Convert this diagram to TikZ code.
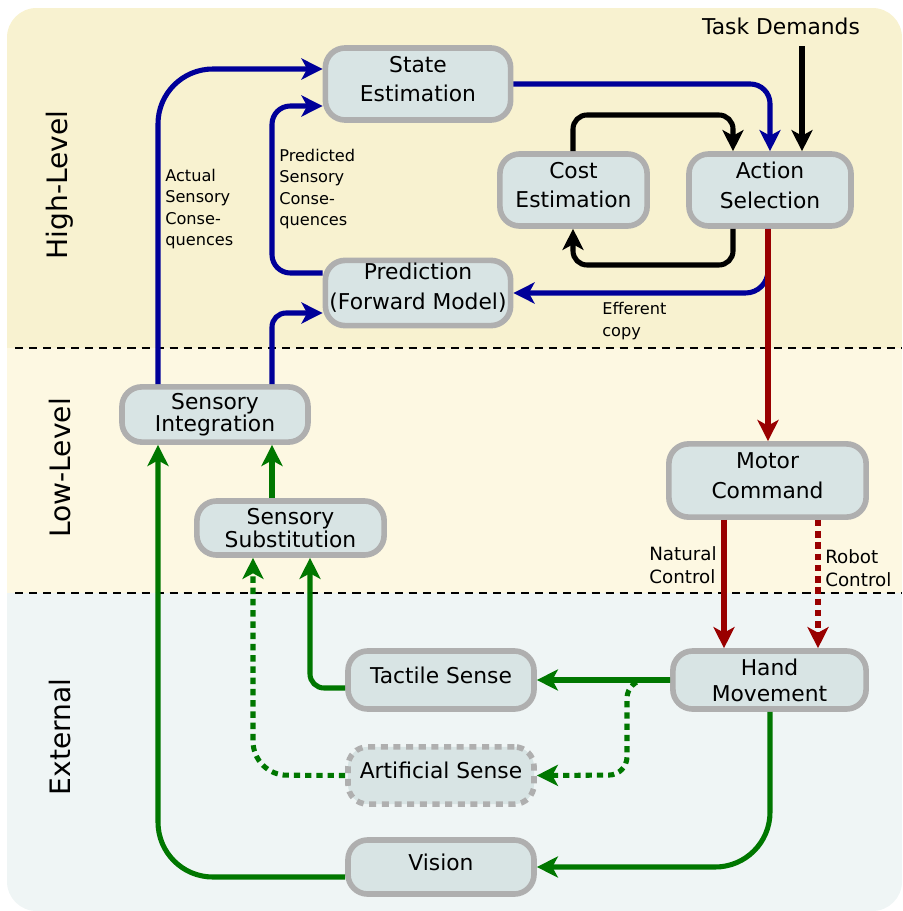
\documentclass[tikz,border=0pt]{standalone}
\usepackage{fontspec}
\setmainfont{DejaVu Sans}
\usepackage{tikz}
\usetikzlibrary{arrows.meta, shapes}

\definecolor{highbg}{HTML}{F8F2D0}
\definecolor{lowbg}{HTML}{FDF8E2}
\definecolor{extbg}{HTML}{EFF5F5}
\definecolor{boxfill}{HTML}{D8E4E4}
\definecolor{boxline}{HTML}{AFAFAF}
\definecolor{sigblue}{HTML}{000099}
\definecolor{sigred}{HTML}{990000}
\definecolor{siggreen}{HTML}{007700}

\begin{document}
\begin{tikzpicture}[x=0.025cm, y=-0.025cm, >={Stealth[length=15pt, width=15pt, inset=4pt]},
		box/.style={draw=boxline, fill=boxfill, line width=4pt, rounded corners=14pt, align=center,
			inner sep=0pt, font=\fontsize{15.5}{21}\selectfont},
		lift/.style={text depth=7pt},
		tight/.style={font=\fontsize{15.5}{16}\selectfont},
		sig/.style={->, line width=3.6pt, rounded corners=10pt},
		note/.style={anchor=west, align=left, inner sep=0pt, font=\fontsize{11.5}{15}\selectfont},
		layer/.style={rotate=90, font=\fontsize{20}{24}\selectfont},
		dots/.style={dash pattern=on 4.5pt off 3.5pt}]
		\useasboundingbox (0,0) rectangle (902,911);
		
		% bands
		\begin{scope}
			\clip[rounded corners=21pt] (7,8) rectangle (902,911);
			\fill[highbg] (7,8) rectangle (902,348);
			\fill[lowbg] (7,348) rectangle (902,593);
			\fill[extbg] (7,593) rectangle (902,911);
		\end{scope}
		\draw[line width=1pt, dash pattern=on 5.7pt off 4.3pt] (15,348) -- (902,348);
		\draw[line width=1pt, dash pattern=on 5.7pt off 4.3pt] (15,593) -- (902,593);
		
		\node[layer] (high) at (60,185) {High-Level};
		\node[layer] (low) at (60,468) {Low-Level};
		\node[layer] (ext) at (60,737) {External};
		
		\node[box, lift, minimum width=4.63cm, minimum height=1.8cm] (state) at (418,84) {State\\Estimation};
		\node[box, lift, minimum width=3.68cm, minimum height=1.8cm] (cost) at (573.5,190) {Cost\\Estimation};
		\node[box, lift, minimum width=4.05cm, minimum height=1.8cm] (action) at (770,190) {Action\\Selection};
		\node[box, text depth=9.5pt, minimum width=4.63cm, minimum height=1.63cm] (pred) at (418,293) {Prediction\\(Forward Model)};
		\node[box, tight, minimum width=4.65cm, minimum height=1.38cm] (sint) at (215,414.5) {Sensory\\Integration};
		\node[box, tight, minimum width=4.68cm, minimum height=1.35cm] (ssub) at (290.5,528) {Sensory\\Substitution};
		\node[box, lift, minimum width=4.93cm, minimum height=1.83cm] (motor) at (767.5,480.5) {Motor\\Command};
		\node[box, font=\fontsize{15.5}{18.5}\selectfont, minimum width=4.83cm, minimum height=1.45cm] (hand) at (769.5,680) {Hand\\Movement};
		\node[box, lift, minimum width=4.65cm, minimum height=1.45cm] (tactile) at (441,680) {Tactile Sense};
		\node[box, lift, dash pattern=on 5pt off 4pt, minimum width=4.65cm, minimum height=1.43cm] (artificial) at (441,775.5) {Artificial Sense};
		\node[box, lift, minimum width=4.65cm, minimum height=1.35cm] (vision) at (441,867) {Vision};
		\node[font=\fontsize{15.5}{18}\selectfont] (task) at (781,26) {Task Demands};
		
		% high level
		\draw[sig, sigblue, rounded corners=39pt] (158,0 |- sint.north) -- (158,69) -- (state.west |- 0,69);
		\draw[sig, sigblue] (272,0 |- sint.north) -- (272,313) -- (pred.west |- 0,313);
		\draw[sig, sigblue, rounded corners=13pt] (pred.west |- 0,273) -- (272,273) -- (272,106) -- (state.west |- 0,106);
		\draw[sig, sigblue, rounded corners=14pt] (state.east) -- (770,84) -- (action.north);
		\draw[sig, black] (802,0 |- task.south) ++(0,7) -- (802,0 |- action.north);
		\draw[sig, black] (573,0 |- cost.north) -- (573,115) -- (733,115) -- (733,0 |- action.north);
		\draw[sig, black] (733,0 |- action.south) -- (733,265) -- (573,265) -- (573,0 |- cost.south);
		\draw[sig, sigblue, rounded corners=16pt] (768,0 |- action.south) -- (768,293) -- (pred.east);
		
		\node[note] (actual) at (165,209) {Actual\\Sensory\\Conse-\\quences};
		\node[note] (predicted) at (279,189) {Predicted\\Sensory\\Conse-\\quences};
		\node[note] (efferent) at (602,321) {Efferent\\copy};
		
		% motor side
		\draw[sig, sigred] (768,0 |- action.south) -- (768,0 |- motor.north);
		\draw[sig, sigred] (724,0 |- motor.south) -- (724,0 |- hand.north);
		\draw[sig, sigred, dots] (818,0 |- motor.south) -- (818,0 |- hand.north);
		\node[note, anchor=east, font=\fontsize{13}{16.5}\selectfont] (natural) at (717,565) {Natural\\Control};
		\node[note, font=\fontsize{13}{16.5}\selectfont] (robot) at (825,568) {Robot\\Control};
		
		% external
		\draw[sig, siggreen] (hand.west) -- (tactile.east);
		\draw[sig, siggreen, dots, rounded corners=13pt] (hand.west) -- (627,680) -- (627,775) -- (artificial.east);
		\draw[sig, siggreen, rounded corners=39pt] (770,0 |- hand.south) -- (770,867) -- (vision.east);
		\draw[sig, siggreen, rounded corners=39pt] (vision.west |- 0,877) -- (158,877) -- (158,0 |- sint.south);
		\draw[sig, siggreen] (tactile.west |- 0,688) -- (310,688) -- (310,0 |- ssub.south);
		\draw[sig, siggreen, dots, rounded corners=24pt] (artificial.west) -- (253,775) -- (253,0 |- ssub.south);
		\draw[sig, siggreen] (272,0 |- ssub.north) -- (272,0 |- sint.south);
\end{tikzpicture}
\end{document}
